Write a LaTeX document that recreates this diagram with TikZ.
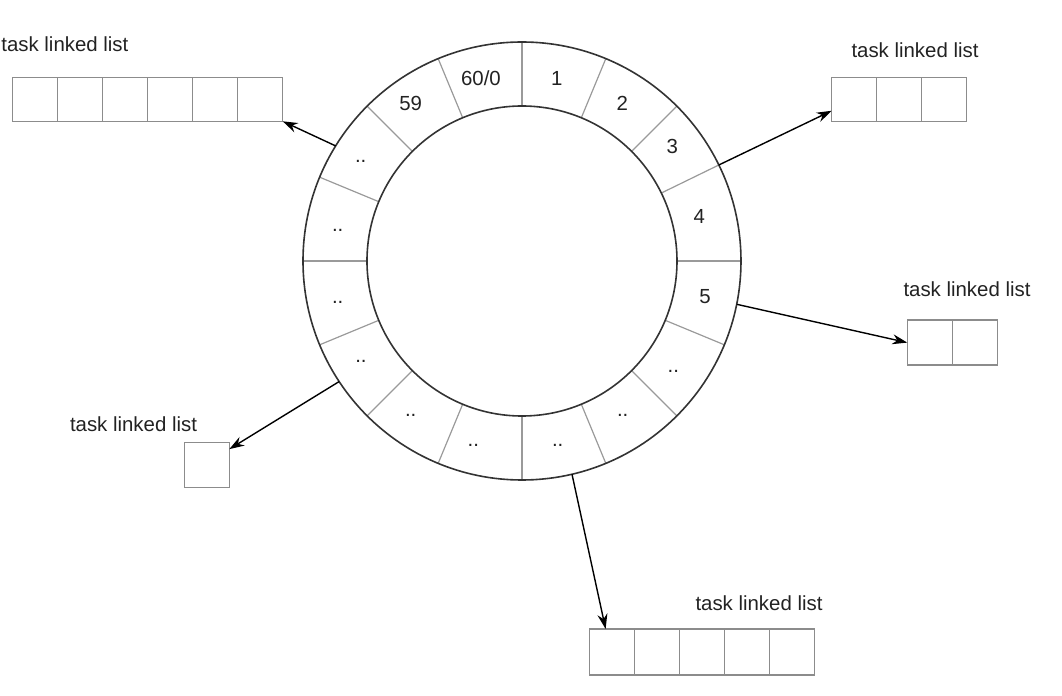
\documentclass[tikz,border=0pt]{standalone}
\usepackage{fontspec}
\setmainfont{Liberation Sans}
\usetikzlibrary{positioning, arrows.meta}
\definecolor{ringgray}{HTML}{333333}
\definecolor{slotgray}{HTML}{9A9A9A}
\definecolor{cellgray}{HTML}{8C8C8C}
\definecolor{textgray}{HTML}{222222}
\tikzset{
	cellnode/.style={
			rectangle,
			draw=cellgray,
			line width=0.7pt,
			fill=white,
			minimum width=22.5pt,
			minimum height=22pt,
			inner sep=0pt,
			outer sep=0pt
		},
	listlabel/.style={
			text=textgray,
			font=\fontsize{10.2}{12}\selectfont,
			inner sep=0pt
		},
	slotlabel/.style={
			listlabel
		},
	ringline/.style={
			draw=ringgray,
			line width=0.8pt
		},
	slotline/.style={
			draw=slotgray,
			line width=0.6pt
		},
	pointer/.style={
			draw=black,
			line width=0.7pt,
			-{Stealth[length=7.5pt, width=5pt]}
		}
}

\begin{document}
\begin{tikzpicture}[x=0.5pt, y=0.5pt]
\useasboundingbox (-522,-435) rectangle (540,261);

% the wheel
\coordinate (ring) at (0,0);
\foreach \a in {0,26,45,67.5,90,112.5,135,157.5,180,202.5,225,247.5,270,292.5,315,337.5}
	\draw[slotline] (\a:155) -- (\a:219);
\draw[ringline] (ring) circle (219);
\draw[ringline] (ring) circle (155);

\foreach \x/\y/\t [count=\i] in {34.7/182.7/1, 100.3/157.7/2, 150.3/114.3/3,
		177.3/44.3/4, 183/-35.7/5,
		151.3/-110.7/{..}, 100.7/-154/{..}, 35.7/-184.7/{..}, -48.7/-184.7/{..},
		-111.3/-154/{..}, -161/-100/{..}, -184.3/-41.3/{..}, -184.3/30.3/{..},
		-161.3/99.3/{..}, -111.3/157.7/59, -41/182.7/{60/0}}
	\node[slotlabel] (slot\i) at (\x,\y) {\t};

% task lists
\node[cellnode, anchor=north west] (la1) at (-509.3,183.7) {};
\node[cellnode, right=0pt of la1] (la2) {};
\node[cellnode, right=0pt of la2] (la3) {};
\node[cellnode, right=0pt of la3] (la4) {};
\node[cellnode, right=0pt of la4] (la5) {};
\node[cellnode, right=0pt of la5] (la6) {};

\node[cellnode, anchor=north west] (lb1) at (309.7,183.7) {};
\node[cellnode, right=0pt of lb1] (lb2) {};
\node[cellnode, right=0pt of lb2] (lb3) {};

\node[cellnode, anchor=north west, minimum height=22.6pt] (lc1) at (385.3,-59) {};
\node[cellnode, right=0pt of lc1, minimum height=22.6pt] (lc2) {};

\node[cellnode, anchor=north west, minimum height=22.6pt] (ld1) at (-337.7,-181.3) {};

\node[cellnode, anchor=north west, minimum height=23pt] (le1) at (67.3,-368) {};
\node[cellnode, right=0pt of le1, minimum height=23pt] (le2) {};
\node[cellnode, right=0pt of le2, minimum height=23pt] (le3) {};
\node[cellnode, right=0pt of le3, minimum height=23pt] (le4) {};
\node[cellnode, right=0pt of le4, minimum height=23pt] (le5) {};

\node[listlabel, anchor=west] (tA) at (-521,217) {task linked list};
\node[listlabel] (tB) at (393,211) {task linked list};
\node[listlabel] (tC) at (445,-28.3) {task linked list};
\node[listlabel] (tD) at (-388.5,-163.3) {task linked list};
\node[listlabel] (tE) at (237,-342.3) {task linked list};

% pointers from the slots
\coordinate (pA) at (148.3:219);
\coordinate (pB) at (26:219);
\coordinate (pC) at (-11.4:219);
\coordinate (pD) at (213.4:219);
\coordinate (pE) at (-76.8:219);

\draw[pointer] (pA) -- (la6.south east);
\draw[pointer] (pB) -- (lb1.207);
\draw[pointer] (pC) -- (lc1.west);
\draw[pointer] (pD) -- (ld1.35);
\draw[pointer] (pE) -- (le1.105);

\end{tikzpicture}
\end{document}
